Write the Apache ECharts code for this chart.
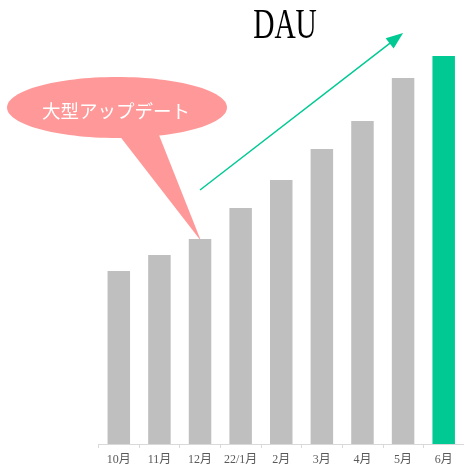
<!DOCTYPE html>
<html>
<head>
<meta charset="utf-8">
<script src="https://cdn.jsdelivr.net/npm/echarts@6/dist/echarts.min.js"></script>
<style>
  html, body { margin: 0; padding: 0; background: #fff; }
  #chart { width: 464px; height: 470px; }
</style>
</head>
<body>
<div id="chart"></div>
<script>
// monthly DAU (relative)
const months = ['10月', '11月', '12月', '22/1月', '2月', '3月', '4月', '5月', '6月']
const dau = [173, 189, 205, 236, 264, 295, 323, 366, 388]
const highlightIndex = 8
// trend arrow anchors: [category, value]
const arrowFrom = ['12月', 254]
const arrowTo = ['5月', 411]
const calloutText = '大型アップデート'

const gray = '#bfbfbf'
const green = '#00c994'
const pink = '#ff9999'

const chart = echarts.init(document.getElementById('chart'))
chart.setOption({
  animation: false,
  grid: { left: 98.5, width: 369, top: 24, bottom: 26 },
  xAxis: {
    type: 'category',
    data: months,
    axisLine: { lineStyle: { color: '#d9d9d9', width: 1 } },
    axisTick: { show: true, length: 4, lineStyle: { color: '#d9d9d9' } },
    axisLabel: {
      interval: 0,
      margin: 10,
      color: '#595959',
      fontSize: 12,
      fontFamily: '"Liberation Serif", "Noto Sans CJK JP", serif'
    }
  },
  yAxis: {
    type: 'value',
    min: 0,
    max: 420,
    show: false,
    splitLine: { show: false }
  },
  series: [{
    type: 'bar',
    barWidth: 22.5,
    data: dau.map((v, i) => ({
      value: v,
      itemStyle: { color: i === highlightIndex ? green : gray }
    }))
  }]
})

// annotations anchored to the data through the axes
const px = c => chart.convertToPixel({ xAxisIndex: 0, yAxisIndex: 0 }, c)
const a = px(arrowFrom)
const b = px(arrowTo)
const dx = b[0] - a[0], dy = b[1] - a[1]
const len = Math.sqrt(dx * dx + dy * dy)
const ux = dx / len, uy = dy / len
const nx = -uy, ny = ux
const headLen = 17, headHalf = 6.5
const baseX = b[0] - headLen * ux, baseY = b[1] - headLen * uy

const tip = px([months[2], dau[2]])

chart.setOption({
  graphic: [
    {
      type: 'text',
      x: 285,
      y: 27,
      scaleX: 0.7,
      style: {
        text: 'DAU',
        x: 0,
        y: 0,
        align: 'center',
        verticalAlign: 'middle',
        fontSize: 42,
        fontFamily: '"Liberation Serif", serif',
        fill: '#000'
      }
    },
    {
      type: 'line',
      shape: { x1: a[0], y1: a[1], x2: baseX + 3 * ux, y2: baseY + 3 * uy },
      style: { stroke: green, lineWidth: 1.5 }
    },
    {
      type: 'polygon',
      shape: {
        points: [
          [b[0], b[1]],
          [baseX + headHalf * nx, baseY + headHalf * ny],
          [baseX - headHalf * nx, baseY - headHalf * ny]
        ]
      },
      style: { fill: green }
    },
    {
      type: 'polygon',
      shape: { points: [[115, 130], [157, 130], [tip[0] + 1, tip[1] + 2]] },
      style: { fill: pink }
    },
    {
      type: 'ellipse',
      shape: { cx: 117, cy: 107.5, rx: 110, ry: 30.5 },
      style: { fill: pink }
    },
    {
      type: 'text',
      style: {
        text: calloutText,
        x: 116,
        y: 111,
        align: 'center',
        verticalAlign: 'middle',
        fontSize: 18.5,
        fontFamily: '"Noto Sans CJK JP", sans-serif',
        fill: '#fff'
      }
    }
  ]
})
</script>
</body>
</html>
